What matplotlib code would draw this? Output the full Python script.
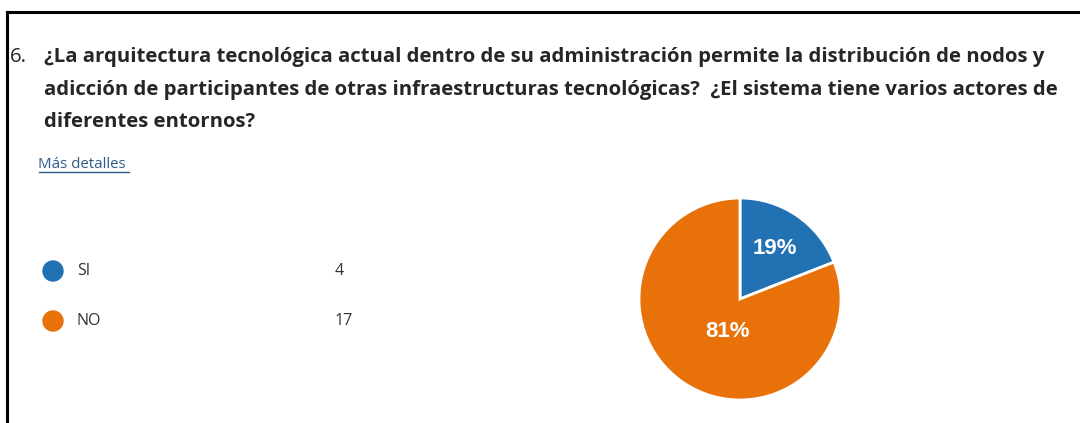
import matplotlib.pyplot as plt
from matplotlib.patches import Circle
from matplotlib.lines import Line2D

# Datos de la pregunta 6
titulo = ["¿La arquitectura tecnológica actual dentro de su administración permite la distribución de nodos y",
          "adicción de participantes de otras infraestructuras tecnológicas?  ¿El sistema tiene varios actores de",
          "diferentes entornos?"]
opciones = ["SI", "NO"]
respuestas = [4, 17]
colores = ["#2271b3", "#e8710a"]

W, H = 1080, 423
fig = plt.figure(figsize=(W / 100, H / 100), dpi=100)
fig.patch.set_facecolor("white")

# Capa de fondo en coordenadas de píxel
bg = fig.add_axes([0, 0, 1, 1])
bg.set_xlim(0, W)
bg.set_ylim(H, 0)
bg.axis("off")

# Marco (solo arriba e izquierda)
bg.add_line(Line2D([6.5, W], [12.5, 12.5], color="black", lw=2.2))
bg.add_line(Line2D([6.5, 6.5], [12.5, H], color="black", lw=2.2))

fuente = "Open Sans"
bg.text(10, 57, "6.", fontsize=14.7, family=fuente, color="#262626", va="center")
for i, linea in enumerate(titulo):
    bg.text(44, 57 + i * 32.5, linea, fontsize=14.7, family=fuente, weight="bold",
            color="#262626", va="center")

# Enlace "Más detalles"
bg.text(38, 164, "Más detalles", fontsize=10.8, family=fuente, color="#2c5c87", va="center")
bg.add_line(Line2D([39, 129], [172, 172], color="#2c5c87", lw=1.0))

# Leyenda con conteos
ys = [271, 321]
for y, op, n, c in zip(ys, opciones, respuestas, colores):
    bg.add_patch(Circle((53, y), 10, color=c))
    bg.text(77, y, op, fontsize=11.5, family=fuente, color="#333333", va="center")
    bg.text(335, y, str(n), fontsize=11.5, family=fuente, color="#333333", va="center")

# Gráfico circular
cx, cy, r = 740, 299, 101
ax = fig.add_axes([(cx - r) / W, (H - cy - r) / H, 2 * r / W, 2 * r / H])
wedges, textos, pcts = ax.pie(respuestas, colors=colores, startangle=90, counterclock=False,
                              autopct=lambda p: f"{p:.0f}%", pctdistance=0.6,
                              wedgeprops=dict(edgecolor="white", linewidth=2),
                              textprops=dict(color="white", fontsize=16, weight="bold",
                                             family="Liberation Sans"))
ax.set_xlim(-1, 1)
ax.set_ylim(-1, 1)
ax.set_aspect("equal")
pcts[0].set_position((0.35, 0.50))
pcts[1].set_position((-0.12, -0.32))

fig.savefig("out.png", dpi=100, facecolor="white")
